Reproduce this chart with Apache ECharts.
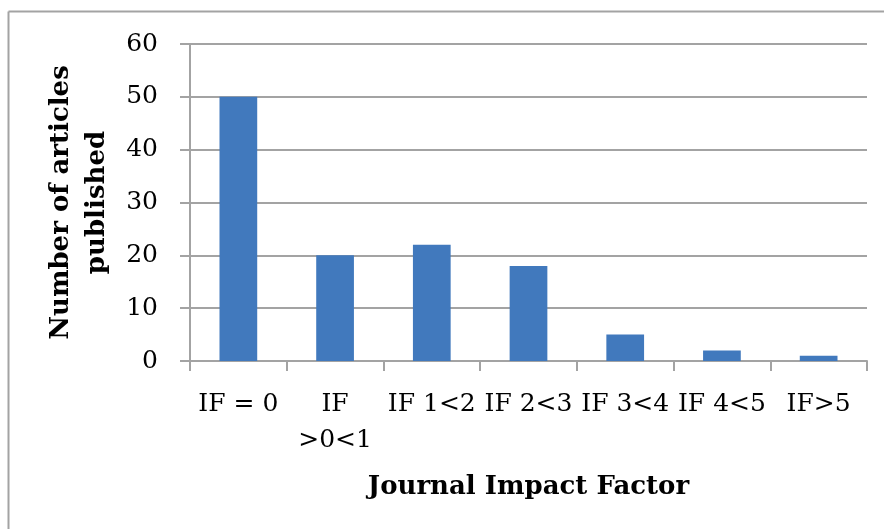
<!DOCTYPE html>
<html>
<head>
<meta charset="utf-8">
<script src="https://cdn.jsdelivr.net/npm/echarts@6/dist/echarts.min.js"></script>
<style>
html,body{margin:0;padding:0;background:#fff;}
#chart{width:884px;height:529px;}
</style>
</head>
<body>
<div id="chart"></div>
<script>
var categories = ['IF = 0', 'IF\n>0<1', 'IF 1<2', 'IF 2<3', 'IF 3<4', 'IF 4<5', 'IF>5'];
var articles = [50, 20, 22, 18, 5, 2, 1];
var yTicks = [0, 10, 20, 30, 40, 50, 60];
var xTitle = 'Journal Impact Factor';
var yTitle = 'Number of articles\npublished';

var FONT = 'DejaVu Serif';
var GRAY = '#a3a3a3';
var chart = echarts.init(document.getElementById('chart'), null, {renderer: 'canvas'});
chart.setOption({
  backgroundColor: '#ffffff',
  animation: false,
  grid: {left: 190, right: 17, top: 44, bottom: 168, containLabel: false},
  graphic: [
    {type: 'line', shape: {x1: 8.5, y1: 11.5, x2: 884, y2: 11.5}, style: {stroke: GRAY, lineWidth: 2}},
    {type: 'line', shape: {x1: 8.5, y1: 11.5, x2: 8.5, y2: 529}, style: {stroke: GRAY, lineWidth: 2}}
  ],
  xAxis: {
    type: 'category',
    data: categories,
    name: xTitle,
    nameLocation: 'middle',
    nameGap: 113,
    nameTextStyle: {fontFamily: FONT, fontWeight: 'bold', fontSize: 26, color: '#000'},
    axisLine: {lineStyle: {color: GRAY, width: 2}},
    axisTick: {show: true, length: 10, lineStyle: {color: GRAY, width: 2}},
    axisLabel: {fontFamily: FONT, fontSize: 25, color: '#000', margin: 25, lineHeight: 36, interval: 0},
    splitLine: {show: false}
  },
  yAxis: {
    type: 'value',
    min: yTicks[0],
    max: yTicks[yTicks.length - 1],
    interval: 10,
    name: yTitle,
    nameLocation: 'middle',
    nameRotate: 90,
    nameGap: 68,
    nameTextStyle: {fontFamily: FONT, fontWeight: 'bold', fontSize: 26, color: '#000', lineHeight: 36, align: 'center'},
    axisLine: {show: true, lineStyle: {color: GRAY, width: 2}},
    axisTick: {show: true, length: 10, lineStyle: {color: GRAY, width: 2}},
    axisLabel: {fontFamily: FONT, fontSize: 25, color: '#000', margin: 32},
    splitLine: {show: true, lineStyle: {color: GRAY, width: 2}}
  },
  series: [{
    type: 'bar',
    data: articles,
    barWidth: '39%',
    itemStyle: {color: '#4179bd'}
  }]
});
</script>
</body>
</html>
